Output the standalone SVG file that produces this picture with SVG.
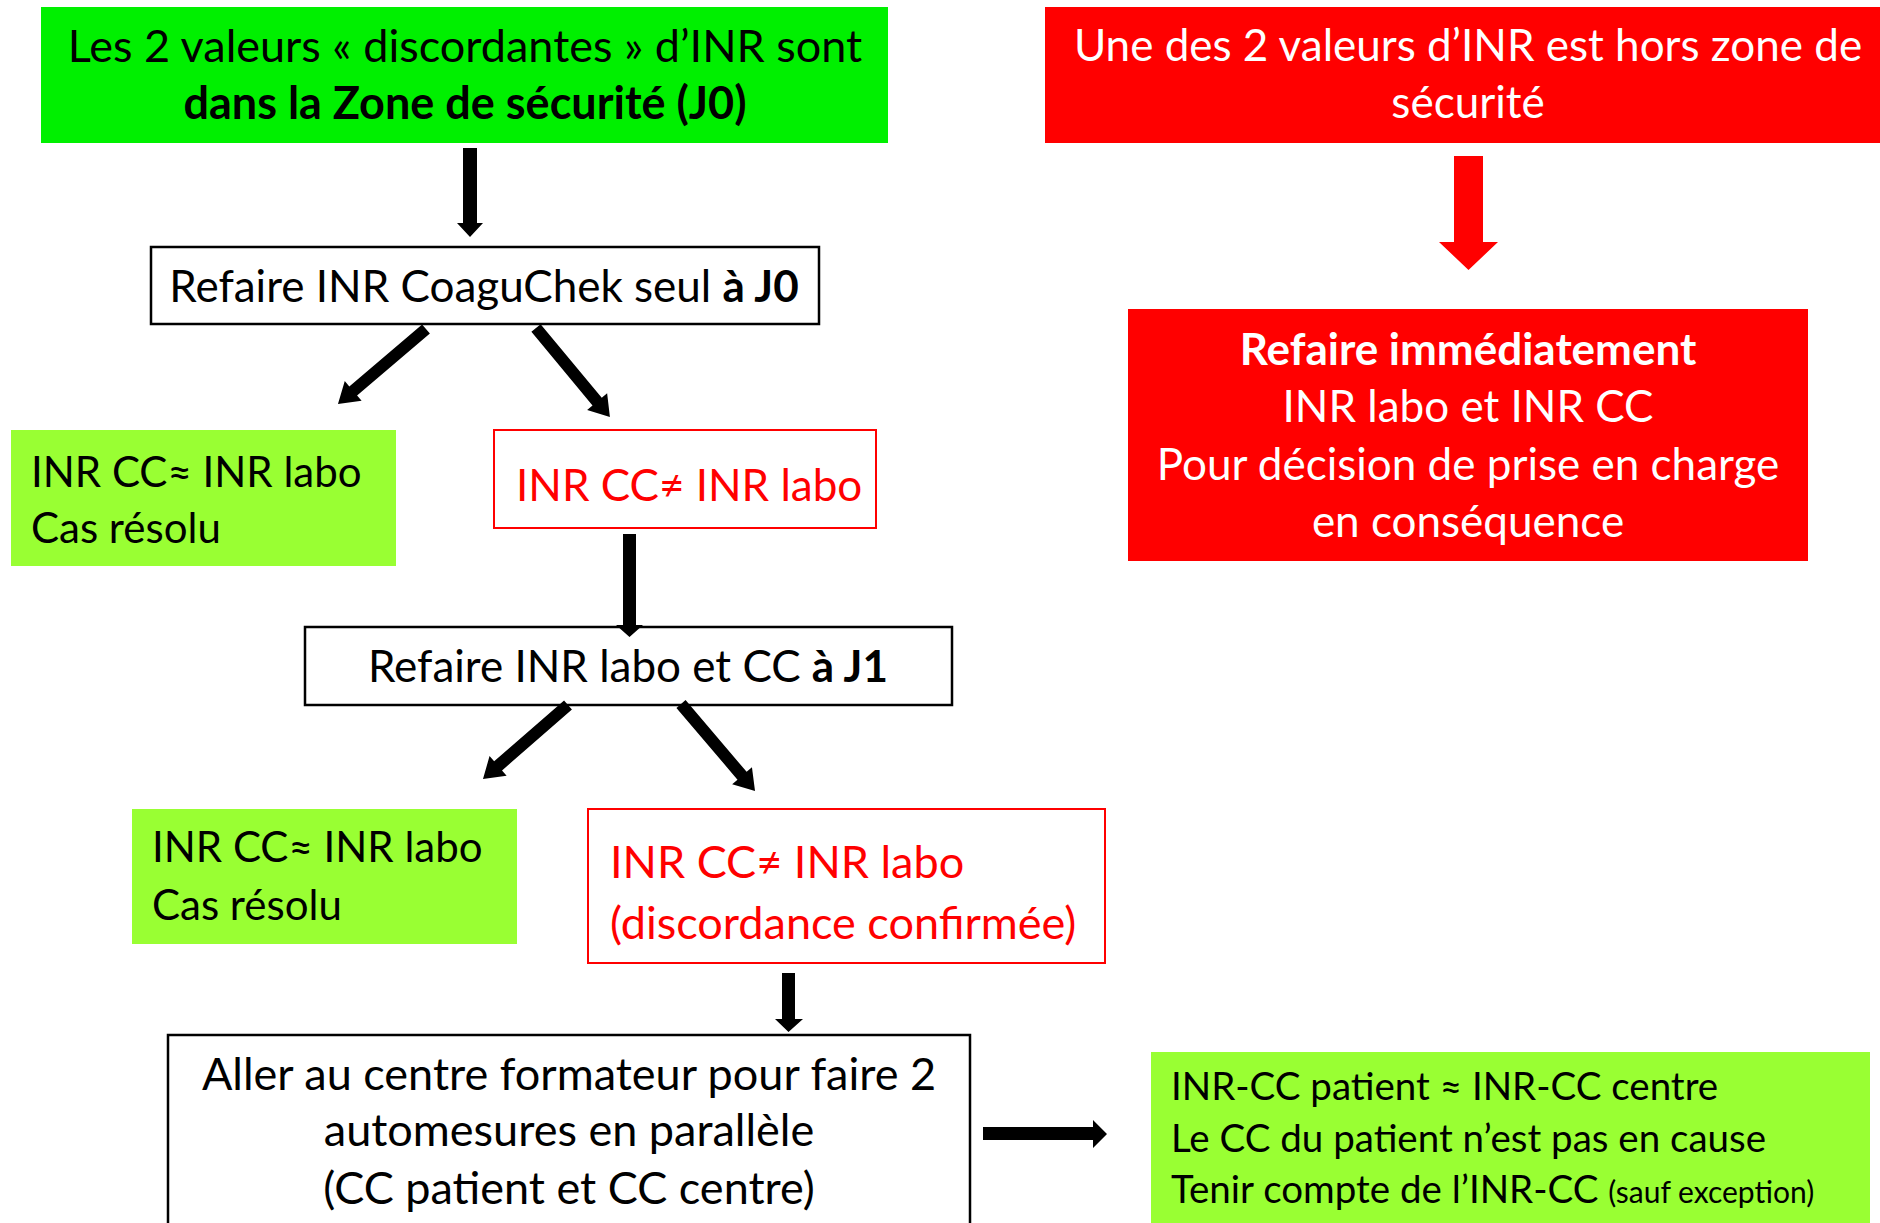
<svg xmlns="http://www.w3.org/2000/svg" width="1880" height="1223" viewBox="0 0 1880 1223">
<style>
  text { font-family: Lato, "Liberation Sans", sans-serif; font-size: 44px; fill: #000; }
  .c { text-anchor: middle; }
  .b { font-weight: bold; }
  .w { fill: #fff; }
  .r { fill: #ff0000; }
  .l { font-size: 45px; }
  .g { font-size: 42px; }
  .s { font-size: 38.5px; }
  .xs { font-size: 30px; }
  .green { fill: #00f000; }
  .lime { fill: #99ff33; }
  .redfill { fill: #ff0000; }
  .box { fill: #fff; stroke: #000; stroke-width: 2.5; }
  .rbox { fill: #fff; stroke: #ff0000; stroke-width: 2; }
  .arr { fill: #000; }
  .rarr { fill: #ff0000; }
</style>

<g id="node-zone-securite">
  <rect class="green" x="41" y="7" width="847" height="136"/>
  <text class="c l" x="465" y="62">Les 2 valeurs « discordantes » d’INR sont</text>
  <text class="c b l" x="465" y="119">dans la Zone de sécurité (J0)</text>
</g>

<g id="node-hors-zone">
  <rect class="redfill" x="1045" y="7" width="840" height="136"/>
  <text class="c w" x="1468" y="61">Une des 2 valeurs d’INR est hors zone de</text>
  <text class="c w" x="1468" y="118">sécurité</text>
</g>

<g id="node-refaire-immediatement">
  <rect class="redfill" x="1128" y="309" width="680" height="252"/>
  <text class="c w b" x="1468" y="365">Refaire immédiatement</text>
  <text class="c w" x="1468" y="422">INR labo et INR CC</text>
  <text class="c w" x="1468" y="480">Pour décision de prise en charge</text>
  <text class="c w" x="1468" y="537">en conséquence</text>
</g>

<g id="node-refaire-j0">
  <rect class="box" x="151" y="247" width="668" height="77"/>
  <text class="c" x="484" y="302">Refaire INR CoaguChek seul <tspan class="b">à J0</tspan></text>
</g>

<g id="node-resolu-1">
  <rect class="lime" x="11" y="430" width="385" height="136"/>
  <text class="g" x="31" y="487">INR CC≈ INR labo</text>
  <text class="g" x="31" y="543">Cas résolu</text>
</g>

<g id="node-different-1">
  <rect class="rbox" x="494" y="430" width="382" height="98"/>
  <text class="r" x="516" y="501">INR CC≠ INR labo</text>
</g>

<g id="node-refaire-j1">
  <rect class="box" x="305" y="627" width="647" height="78"/>
  <text class="c" x="628" y="682">Refaire INR labo et CC <tspan class="b">à J1</tspan></text>
</g>

<g id="node-resolu-2">
  <rect class="lime" x="132" y="809" width="385" height="135"/>
  <text class="g" x="152" y="862">INR CC≈ INR labo</text>
  <text class="g" x="152" y="920">Cas résolu</text>
</g>

<g id="node-discordance-confirmee">
  <rect class="rbox" x="588" y="809" width="517" height="154"/>
  <text class="r l" x="610" y="878">INR CC≠ INR labo</text>
  <text class="r l" x="610" y="939">(discordance confirmée)</text>
</g>

<g id="node-centre-formateur">
  <rect class="box" x="168" y="1035" width="802" height="210"/>
  <text class="c l" x="569" y="1090">Aller au centre formateur pour faire 2</text>
  <text class="c l" x="569" y="1146">automesures en parallèle</text>
  <text class="c l" x="569" y="1204">(CC patient et CC centre)</text>
</g>

<g id="node-cc-hors-cause">
  <rect class="lime" x="1151" y="1052" width="719" height="190"/>
  <text class="s" x="1171" y="1100">INR-CC patient ≈ INR-CC centre</text>
  <text class="s" x="1171" y="1152">Le CC du patient n’est pas en cause</text>
  <text class="s" x="1171" y="1203">Tenir compte de l’INR-CC <tspan class="xs">(sauf exception)</tspan></text>
</g>

<g id="connectors">
  <polygon class="arr" points="463,148 477,148 477,223 483,223 470,237 457,223 463,223"/>
  <polygon class="rarr" points="1454,156 1483,156 1483,242 1498,242 1468.5,270 1439,242 1454,242"/>
  <polygon class="arr" transform="translate(426,329) rotate(139.6)" points="0,-6 95.6,-6 95.6,-13 115.6,0 95.6,13 95.6,6 0,6"/>
  <polygon class="arr" transform="translate(536,328) rotate(50.3)" points="0,-6 95.7,-6 95.7,-13 115.7,0 95.7,13 95.7,6 0,6"/>
  <polygon class="arr" points="623,534 636,534 636,625 643,625 629.5,637 616,625 623,625"/>
  <polygon class="arr" transform="translate(568,705) rotate(138.96)" points="0,-6 92.7,-6 92.7,-13 112.7,0 92.7,13 92.7,6 0,6"/>
  <polygon class="arr" transform="translate(681,704) rotate(49.6)" points="0,-6 94.2,-6 94.2,-13 114.2,0 94.2,13 94.2,6 0,6"/>
  <polygon class="arr" points="782,973 795,973 795,1019 803,1019 788.5,1032 775,1019 782,1019"/>
  <polygon class="arr" points="983,1127 1093,1127 1093,1120 1107,1134 1093,1148 1093,1140 983,1140"/>
</g>
</svg>
